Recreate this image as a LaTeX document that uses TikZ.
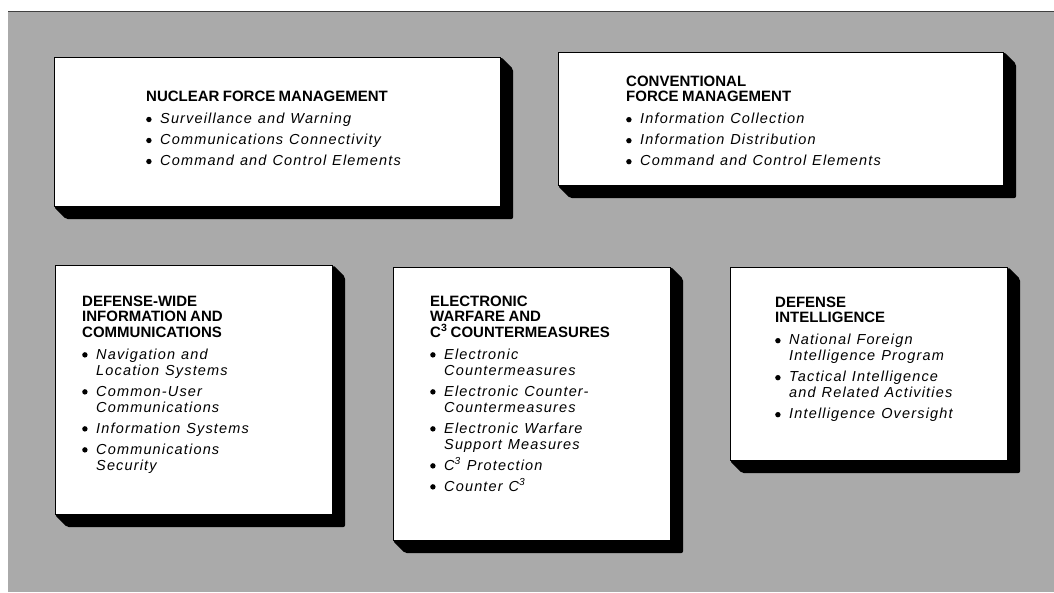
\documentclass[tikz,border=0pt]{standalone}
\usepackage{fontspec}
\setmainfont{Liberation Sans}
\newfontfamily\itemfont[LetterSpace=8]{Liberation Sans}
\pgfdeclarelayer{backdrop}
\pgfdeclarelayer{shadows}
\pgfsetlayers{backdrop,shadows,main}
\newcommand{\dotb}{\makebox[14pt][l]{\tikz[baseline=0pt]\fill (2.7pt,4.2pt) circle (2.7pt);}}
\newcommand{\ttl}[1]{{\fontsize{15}{15.2}\selectfont\bfseries #1\par}\vspace{6pt}}
\newcommand{\itemset}{\fontsize{14.5}{16}\itemfont\itshape\spaceskip=6pt plus 1pt\relax\noindent}
\newcommand{\itm}[1]{{\itemset\dotb#1\par}\vspace{5pt}}
\newcommand{\itmm}[2]{{\itemset\dotb#1\par\noindent\hspace*{14pt}#2\par}\vspace{5pt}}
\begin{document}
\begin{tikzpicture}[x=1pt,y=-1pt]
\definecolor{stipple}{RGB}{170,170,170}
\tikzset{
  card/.style={fill=white, draw=black, line width=1.1pt, anchor=north west, inner sep=0pt},
  shade/.style={fill=black, rounded corners=2pt},
  txt/.style={anchor=north west, inner sep=0pt, align=left, text width=#1},
}
\path[use as bounding box] (0,0) rectangle (1054,592);
\begin{pgfonlayer}{backdrop}
  \fill[white] (0,0) rectangle (1054,592);
  \fill[stipple] (8,11) rectangle (1054,592);
  \draw[black!75, line width=1pt] (8,11) -- (1054,11);
\end{pgfonlayer}

% boxes
\node[card, minimum width=446pt, minimum height=149pt] (b1) at (54,57) {};
\node[card, minimum width=445pt, minimum height=133pt] (b2) at (558,52) {};
\node[card, minimum width=277pt, minimum height=249pt] (b3) at (55,265) {};
\node[card, minimum width=277pt, minimum height=273pt] (b4) at (393,267) {};
\node[card, minimum width=277pt, minimum height=193pt] (b5) at (730,267) {};

\begin{pgfonlayer}{shadows}
\foreach \b in {b1,b2,b3,b4,b5}{
  \fill[shade] (\b.north east) -- ([shift={(12,12)}]\b.north east)
    -- ([shift={(12,12)}]\b.south east) -- ([shift={(12,12)}]\b.south west)
    -- (\b.south west) -- cycle;
}
\end{pgfonlayer}

% texts
\node[txt=340pt] (t1) at (146,91) {%
  \ttl{NUCLEAR FORCE MANAGEMENT}
  \itm{Surveillance and Warning}
  \itm{Communications Connectivity}
  \itm{Command and Control Elements}};
\node[txt=340pt] (t2) at (626,76) {%
  \ttl{CONVENTIONAL\\FORCE MANAGEMENT}
  \itm{Information Collection}
  \itm{Information Distribution}
  \itm{Command and Control Elements}};
\node[txt=240pt] (t3) at (82,296) {%
  \ttl{DEFENSE-WIDE\\INFORMATION AND\\COMMUNICATIONS}
  \itmm{Navigation and}{Location Systems}
  \itmm{Common-User}{Communications}
  \itm{Information Systems}
  \itmm{Communications}{Security}};
\node[txt=240pt] (t4) at (430,296) {%
  \ttl{ELECTRONIC\\WARFARE AND\\C\textsuperscript{3} COUNTERMEASURES}
  \itmm{Electronic}{Countermeasures}
  \itmm{Electronic Counter-}{Countermeasures}
  \itmm{Electronic Warfare}{Support Measures}
  \itm{C\textsuperscript{3} Protection}
  \itm{Counter C\textsuperscript{3}}};
\node[txt=230pt] (t5) at (775,297) {%
  \ttl{DEFENSE\\INTELLIGENCE}
  \itmm{National Foreign}{Intelligence Program}
  \itmm{Tactical Intelligence}{and Related Activities}
  \itm{Intelligence Oversight}};
\end{tikzpicture}
\end{document}
